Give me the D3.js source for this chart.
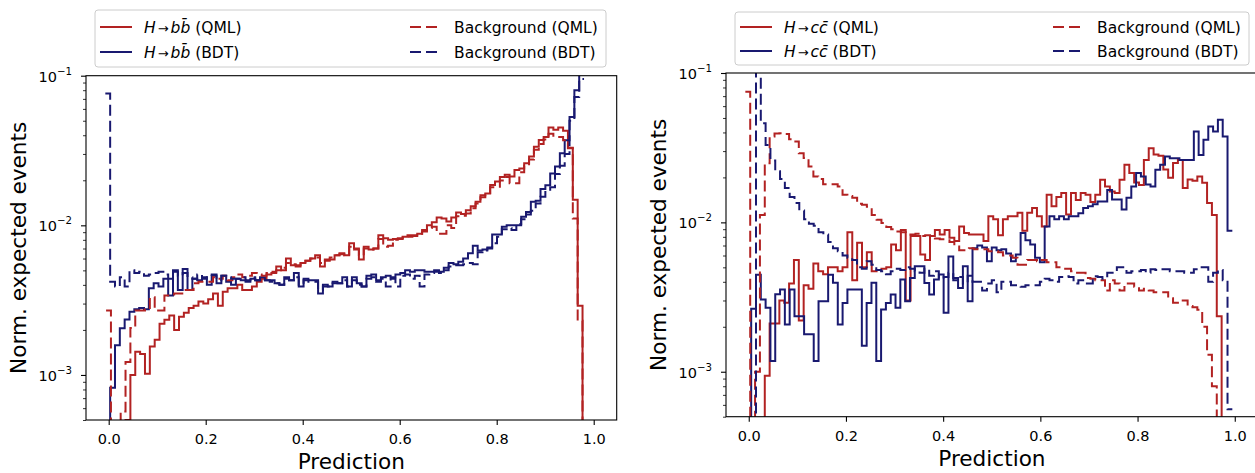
<!DOCTYPE html>
<html>
<head>
<meta charset="utf-8">
<script src="https://cdn.jsdelivr.net/npm/d3@7"></script>
<style>
  body { margin: 0; background: #fff; }
  svg { display: block; }
  text { font-family: "DejaVu Sans", sans-serif; fill: #000; }
</style>
</head>
<body>
<svg id="fig" width="1255" height="473"></svg>
<script>
// ---- Histogram contents, normalised expected events (values in units of 1e-3) ----
// Bin layouts: [first bin edge, bin width]; a 0 marks an empty bin
const bbBinsQML = [-0.0054, 0.010024];
const bbBinsBDT = [-0.00697, 0.00997];
const ccBinsQML = [-0.007, 0.01];
const ccBinsBDT = [-0.0049, 0.0099];

// H -> b bbar
const bbSigQML = [0,0,0,0,0.5,1.0,1.43,1.38,1.02,1.55,1.72,
  2.2,2.34,2.5,2.0,2.45,2.6,2.8,2.9,3.1,3.0,
  3.2,3.5,2.9,3.6,3.8,3.8,4.0,3.7,3.7,3.9,
  4.2,4.4,4.7,4.8,5.3,5.0,6.0,5.4,5.3,5.6,
  5.8,6.0,6.3,5.3,5.8,5.9,6.3,6.5,6.3,7.6,
  7.0,5.9,7.2,6.9,7.0,8.6,8.2,8.0,8.1,8.2,
  8.4,8.6,8.6,8.8,9.3,10.0,10.5,11.3,11.1,10.6,
  11.3,12.2,11.9,12.6,13.4,14.4,15.9,16.3,18.6,19.6,
  21.0,21.8,21.2,23.4,24.0,26.0,28.8,33.5,37.2,39,
  45,43.5,45,42.8,32.7,14.8,2.9,0];
const bbBkgQML = [2.7,0,0,0.57,1.22,2.06,2.7,2.7,2.75,3.3,2.7,
  2.7,3.4,3.4,3.5,3.5,3.7,3.7,4.1,4.2,4.2,
  4.2,4.5,4.4,4.6,4.3,4.5,4.7,4.5,4.6,4.8,
  4.7,4.6,4.8,4.9,5.0,5.2,5.6,5.5,5.4,5.7,
  5.8,6.0,6.1,5.6,5.9,6.1,6.3,6.4,6.3,7.2,
  6.9,6.3,7.0,6.9,7.0,8.1,7.2,7.3,8.0,8.1,
  8.3,8.4,8.5,8.6,9.1,9.6,9.8,8.8,8.8,10.0,
  9.6,11.5,11.6,12.0,13.0,14.0,15.4,16.0,18.0,18.1,
  19.9,21.0,19.1,19.1,22.6,25.0,27.5,32.0,35,37.5,
  41.0,39,39,37,33,11.1,2.3,0];
const bbSigBDT = [0,0.82,1.58,2.05,2.35,2.65,2.75,2.8,2.75,3.8,4.1,
  3.9,4.4,3.4,5.0,3.7,5.1,3.7,4.4,4.3,4.5,
  4.0,4.6,4.1,4.6,4.2,4.0,4.4,4.3,4.2,4.4,
  4.3,4.5,4.3,4.3,4.1,4.0,4.5,4.3,4.8,3.9,
  4.4,4.3,4.3,3.5,4.0,3.9,4.2,4.1,4.5,3.9,
  4.5,4.1,3.9,4.6,4.7,4.3,4.5,4.6,4.5,4.7,
  4.8,5.0,4.9,5.0,5.0,4.9,4.9,5.0,4.9,5.2,
  5.6,5.5,5.7,6.0,6.5,7.3,6.8,6.9,7.1,8.7,
  8.7,9.8,10.0,10.0,10.0,11.4,12.3,14.4,14.6,17.5,
  18.5,22.2,24.7,30.3,37,53,80,130];
const bbBkgBDT = [76,4.2,3.9,4.5,3.9,5.0,4.8,4.9,4.6,4.7,4.8,
  4.9,4.7,4.4,4.9,4.6,4.8,4.5,4.4,4.7,4.4,
  4.5,4.7,4.3,4.6,4.5,4.4,4.4,4.5,4.3,4.5,
  4.3,4.4,4.3,4.2,4.1,4.0,4.4,4.3,4.5,4.0,
  4.3,4.2,4.2,3.7,3.9,3.9,4.1,4.1,4.3,3.9,
  4.3,4.0,3.9,4.4,4.5,4.2,4.4,3.9,4.4,3.9,
  4.6,4.7,4.4,4.6,3.9,4.7,4.8,4.9,4.8,5.0,
  5.3,5.4,5.4,5.5,5.6,5.5,6.6,6.8,7.0,7.6,
  8.4,9.4,9.6,9.3,10.2,11.0,11.8,12.5,14.0,15.5,
  17.0,18.0,22.0,25.0,30.0,50,72,95];

// H -> c cbar
const ccSigQML = [0,0,0,0,0.94,2.1,2.1,3.0,2.9,3.9,5.6,
  2.2,3.8,3.6,5.3,4.7,4.5,5.0,5.0,4.7,5.0,
  8.6,4.1,7.3,5.0,6.3,4.7,4.8,4.9,5.0,7.1,
  6.5,8.9,3.0,8.1,8.1,6.1,5.6,8.1,8.9,8.3,
  8.9,7.9,7.5,9.4,8.5,8.3,8.3,8.3,7.5,11.0,
  10.5,8.2,10.5,11.0,11.0,11.6,8.8,11.6,12.5,11.0,
  9.4,15.3,12.8,14.8,15.7,11.3,15.7,14.1,15.7,15.3,
  13.7,15.3,19.3,17.4,16.1,15.7,19.3,24.3,21.4,18.5,
  17.8,26.2,31.4,28.5,27.9,22.6,19.9,25.0,26.2,17.0,
  19.4,19.0,20.3,18.4,13.5,11.2,2.35,0];
const ccBkgQML = [75,0,1.0,11.2,24.9,37.6,39.4,39.5,39.0,36,34.8,
  29,27,23.7,20.3,19.5,18.0,18.0,18.0,17.4,15.3,
  15.0,14.6,13.3,13.1,12.7,11.2,10.4,9.9,9.3,9.0,
  8.7,8.6,8.3,8.3,8.4,8.1,8.2,8.0,7.8,7.7,
  7.6,7.4,6.9,6.5,6.5,6.7,6.6,6.6,6.6,6.4,
  6.4,6.3,6.0,6.0,5.8,5.2,5.2,5.6,5.6,5.5,
  5.6,5.4,5.4,5.0,4.9,4.9,4.7,4.6,4.6,4.25,
  4.2,4.1,4.1,3.5,4.1,3.9,3.5,3.9,3.9,3.7,
  3.5,3.6,3.5,3.4,3.4,3.4,3.1,2.9,3.0,3.0,
  2.75,2.7,2.6,2.0,1.3,0.8,0];
const ccSigBDT = [0,2.64,4.46,3.04,2.68,1.18,3.3,3.55,2.07,3.55,2.35,
  2.35,1.78,1.78,1.18,2.96,2.96,4.46,3.94,2.07,2.89,
  3.55,3.55,3.55,1.49,2.89,3.94,1.18,2.61,2.89,3.29,
  2.68,4.14,2.96,4.25,5.08,5.08,3.93,3.29,4.14,4.47,
  2.48,5.9,4.25,3.64,5.08,2.96,6.7,7.0,6.8,5.5,
  6.8,6.5,6.6,6.2,5.5,6.1,8.5,7.6,7.1,5.8,
  5.4,9.4,11.0,10.5,11.0,10.5,11.0,11.0,11.5,12.5,
  12.8,13.2,13.8,13.8,16.5,14.2,14.2,12.2,14.6,17.4,
  21.4,20.3,17.9,17.4,22.5,24.3,27.6,26.9,26.9,26.2,
  26.2,26.2,40.6,28.3,35.7,43.8,40.6,48.6,37.6,8.8];
const ccBkgBDT = [0,0,130,46,33,26,22,19.5,17,14.8,13.5,
  12,10.5,9.8,9.5,8.6,8.3,7.4,6.7,6.4,6.0,
  5.8,5.6,5.0,4.9,5.5,5.2,4.8,4.7,4.5,4.7,
  4.9,4.8,5.0,4.9,4.7,4.6,4.9,4.4,4.7,4.2,
  4.3,4.6,4.1,4.3,3.9,4.4,4.0,4.0,3.5,3.9,
  4.1,3.4,4.0,4.0,3.8,3.8,3.7,3.8,3.8,3.8,
  4.0,4.2,4.1,4.0,4.3,4.35,4.3,3.9,4.1,3.9,
  3.9,4.35,4.3,4.2,4.6,4.6,5.0,5.0,4.6,4.7,
  4.7,4.8,4.6,4.85,4.8,4.85,4.85,4.7,4.7,4.7,
  4.6,4.6,4.85,5.0,5.0,4.0,4.6,4.8,4.1,0.56];

// Axis ticks
const xTicks = [0, 0.2, 0.4, 0.6, 0.8, 1.0];
const yTicks = [1e-3, 1e-2, 1e-1];
const yTickExponents = ["\u22123", "\u22122", "\u22121"];

// ---- Styling / layout ----
const RED = "#b22222";
const BLUE = "#191970";
const LW = 2;
const DASH = "11,5";
const FLOOR = 1e-6;          // empty bins are drawn far below the axis floor
const UNIT = 1e-3;
const X_DOMAIN = [-0.0468, 1.0474];
const Y_DOMAIN = [5e-4, 1e-1];

const svg = d3.select("#fig");

function mathLabel(sel, sym, tag) {
  // e.g.  H → b b̄ (QML)
  sel.append("tspan").attr("font-style", "italic").text("H");
  sel.append("tspan").attr("dx", 2).attr("font-size", "13px").text("\u2192");
  sel.append("tspan").attr("dx", 2).attr("font-style", "italic").text(sym + sym + "\u0304");
  sel.append("tspan").text(" (" + tag + ")");
}

const panels = [
  {
    key: "bb", sym: "b",
    box: { l: 86, r: 616.7, t: 75.7, b: 420 },
    legend: { x: 95, y: 10, w: 511, h: 57, rows: [27, 52], cols: [100, 410] },
    series: [
      { vals: bbSigQML, bins: bbBinsQML, color: RED, dashed: false },
      { vals: bbSigBDT, bins: bbBinsBDT, color: BLUE, dashed: false },
      { vals: bbBkgQML, bins: bbBinsQML, color: RED, dashed: true },
      { vals: bbBkgBDT, bins: bbBinsBDT, color: BLUE, dashed: true }
    ]
  },
  {
    key: "cc", sym: "c",
    box: { l: 726, r: 1257.8, t: 73, b: 416.7 },
    legend: { x: 735, y: 12, w: 514, h: 53, rows: [27, 51], cols: [740, 1053] },
    series: [
      { vals: ccSigQML, bins: ccBinsQML, color: RED, dashed: false },
      { vals: ccSigBDT, bins: ccBinsBDT, color: BLUE, dashed: false },
      { vals: ccBkgQML, bins: ccBinsQML, color: RED, dashed: true },
      { vals: ccBkgBDT, bins: ccBinsBDT, color: BLUE, dashed: true }
    ]
  }
];

// Step outline of a histogram: top edges joined by verticals, open at both ends
function stepPoints(vals, bins) {
  const [lo, w] = bins;
  const pts = [];
  vals.forEach((v, i) => {
    const y = v > 0 ? v * UNIT : FLOOR;
    pts.push([lo + i * w, y]);
    pts.push([lo + (i + 1) * w, y]);
  });
  return pts;
}

panels.forEach(p => {
  const { l, r, t, b } = p.box;
  const x = d3.scaleLinear().domain(X_DOMAIN).range([l, r]);
  const y = d3.scaleLog().domain(Y_DOMAIN).range([b, t]);

  const g = svg.append("g");
  const clipId = "clip-" + p.key;
  g.append("clipPath").attr("id", clipId)
    .append("rect").attr("x", l).attr("y", t).attr("width", r - l).attr("height", b - t);

  // histograms
  const line = d3.line().x(d => x(d[0])).y(d => y(d[1]));
  const plot = g.append("g").attr("clip-path", `url(#${clipId})`);
  p.series.forEach(s => {
    plot.append("path")
      .attr("d", line(stepPoints(s.vals, s.bins)))
      .attr("fill", "none")
      .attr("stroke", s.color)
      .attr("stroke-width", LW)
      .attr("stroke-linejoin", "miter")
      .attr("stroke-dasharray", s.dashed ? DASH : null);
  });

  // x axis
  const xAxis = d3.axisBottom(x).tickValues(xTicks).tickFormat(d3.format(".1f"))
    .tickSize(5).tickPadding(8);
  const gx = g.append("g").attr("transform", `translate(0,${b})`).call(xAxis);
  gx.select(".domain").remove();
  gx.selectAll(".tick line").attr("stroke", "#000").attr("stroke-width", 1.1);
  gx.selectAll(".tick text").attr("font-size", "14.5px").attr("font-family", "DejaVu Sans")
    .attr("fill", "#000").attr("dy", null).attr("y", 24);

  // y axis, major ticks with power-of-ten labels
  const yAxis = d3.axisLeft(y).tickValues(yTicks).tickFormat("").tickSize(5);
  const gy = g.append("g").attr("transform", `translate(${l},0)`).call(yAxis);
  gy.select(".domain").remove();
  gy.selectAll(".tick line").attr("stroke", "#000").attr("stroke-width", 1.1);
  gy.selectAll(".tick").each(function (d, i) {
    const tx = d3.select(this).append("text")
      .attr("x", -14).attr("y", 5.3).attr("text-anchor", "end")
      .attr("font-size", "14.5px");
    tx.append("tspan").text("10");
    tx.append("tspan").attr("font-size", "10.2px").attr("dy", -7).text(yTickExponents[i]);
  });

  // minor ticks
  const minor = [];
  for (let e = -4; e <= -2; e++) {
    for (let m = 2; m <= 9; m++) {
      const v = m * Math.pow(10, e);
      if (v >= Y_DOMAIN[0] && v < Y_DOMAIN[1]) minor.push(v);
    }
  }
  const gm = g.append("g").attr("transform", `translate(${l},0)`)
    .call(d3.axisLeft(y).tickValues(minor).tickFormat("").tickSize(3));
  gm.select(".domain").remove();
  gm.selectAll(".tick line").attr("stroke", "#000").attr("stroke-width", 0.8);

  // frame
  g.append("rect").attr("x", l).attr("y", t).attr("width", r - l).attr("height", b - t)
    .attr("fill", "none").attr("stroke", "#000").attr("stroke-width", 1.1);

  // axis titles
  g.append("text").attr("x", (l + r) / 2).attr("y", b + 49.3)
    .attr("text-anchor", "middle").attr("font-size", "21.6px").text("Prediction");
  g.append("text").attr("transform", `translate(${l - 60},${(t + b) / 2}) rotate(-90)`)
    .attr("text-anchor", "middle").attr("font-size", "21.6px").text("Norm. expected events");

  // legend
  const L = p.legend;
  const lg = svg.append("g");
  lg.append("rect").attr("x", L.x).attr("y", L.y).attr("width", L.w).attr("height", L.h)
    .attr("rx", 3).attr("fill", "#fff").attr("fill-opacity", 0.8)
    .attr("stroke", "#cccccc").attr("stroke-width", 1);
  const entries = [
    { col: 0, row: 0, s: p.series[0], math: true, tag: "QML" },
    { col: 0, row: 1, s: p.series[1], math: true, tag: "BDT" },
    { col: 1, row: 0, s: p.series[2], math: false, tag: "QML" },
    { col: 1, row: 1, s: p.series[3], math: false, tag: "BDT" }
  ];
  entries.forEach(en => {
    const hx = L.cols[en.col], cy = L.rows[en.row];
    lg.append("line").attr("x1", hx).attr("x2", hx + 32).attr("y1", cy).attr("y2", cy)
      .attr("stroke", en.s.color).attr("stroke-width", LW)
      .attr("stroke-dasharray", en.s.dashed ? DASH : null);
    const tx = lg.append("text").attr("x", hx + 44).attr("y", cy + 5.6).attr("font-size", "15.5px");
    if (en.math) mathLabel(tx, p.sym, en.tag);
    else tx.text("Background (" + en.tag + ")");
  });
});
</script>
</body>
</html>
